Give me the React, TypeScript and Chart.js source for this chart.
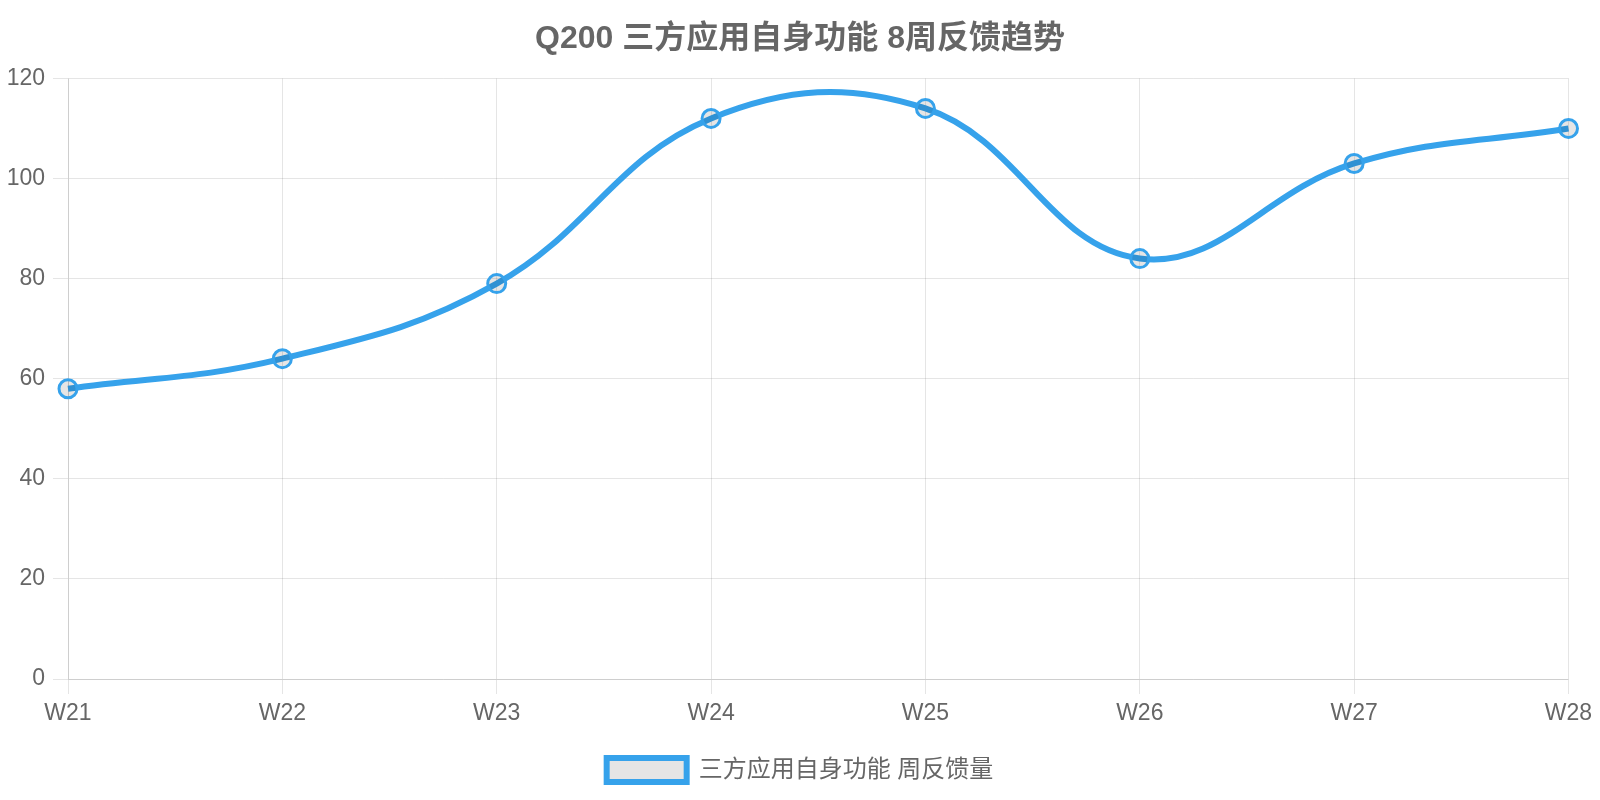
import { useEffect, useRef } from "react";
import { Chart, registerables } from "chart.js";

Chart.register(...registerables);

const weeks = ["W21", "W22", "W23", "W24", "W25", "W26", "W27", "W28"];
const feedbackCounts = [58, 64, 79, 112, 114, 84, 103, 110];
const seriesLabel = "三方应用自身功能 周反馈量";
const chartTitle = "Q200 三方应用自身功能 8周反馈趋势";

const fontFamily = "'Helvetica Neue', Helvetica, Arial, 'Noto Sans CJK SC', sans-serif";

export default function App() {
  const canvasRef = useRef<HTMLCanvasElement | null>(null);
  const chartRef = useRef<Chart | null>(null);

  useEffect(() => {
    if (!canvasRef.current) return;
    chartRef.current?.destroy();
    chartRef.current = new Chart(canvasRef.current, {
      type: "line",
      data: {
        labels: weeks,
        datasets: [
          {
            label: seriesLabel,
            data: feedbackCounts,
            borderColor: "#36a2eb",
            backgroundColor: "rgba(0,0,0,0.1)",
            borderWidth: 6,
            tension: 0.4,
            pointRadius: 9,
            pointBorderWidth: 3,
            pointBackgroundColor: "rgba(0,0,0,0.1)",
            pointBorderColor: "#36a2eb",
          },
        ],
      },
      options: {
        responsive: true,
        maintainAspectRatio: false,
        animation: false,
        plugins: {
          title: {
            display: true,
            text: chartTitle,
            color: "#666",
            font: { family: fontFamily, size: 32, weight: "bold" },
            padding: { top: 12, bottom: 20 },
          },
          legend: {
            position: "bottom",
            labels: {
              color: "#666",
              boxWidth: 80,
              font: { family: fontFamily, size: 24 },
            },
          },
          tooltip: { enabled: false },
        },
        scales: {
          x: {
            grid: { tickLength: 15, color: "rgba(0,0,0,0.1)" },
            ticks: { color: "#666", font: { family: fontFamily, size: 23 }, padding: 6 },
            afterFit: (scale: any) => {
              scale.height = 69;
              scale.paddingRight = 23.5;
            },
          },
          y: {
            min: 0,
            max: 120,
            grid: { tickLength: 15, color: "rgba(0,0,0,0.1)" },
            ticks: {
              stepSize: 20,
              color: "#666",
              font: { family: fontFamily, size: 23 },
              padding: 8,
            },
            afterFit: (scale: any) => {
              scale.width = 60;
            },
          },
        },
      },
    });
    return () => {
      chartRef.current?.destroy();
      chartRef.current = null;
    };
  }, []);

  return (
    <div style={{ width: "100%", height: 784 }}>
      <canvas ref={canvasRef} />
    </div>
  );
}
